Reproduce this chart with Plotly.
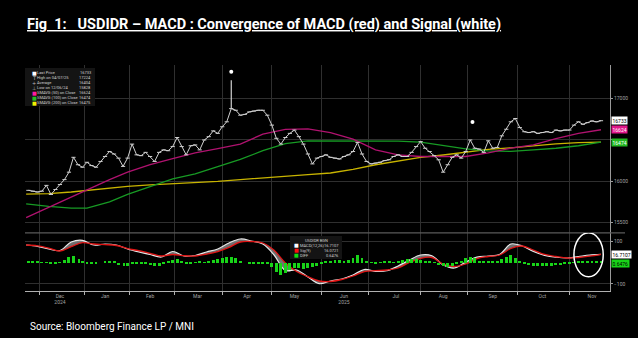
import pandas as pd
import plotly.graph_objects as go

# ---------------- data ----------------
holidays = ["2024-12-25", "2024-12-26", "2025-01-01", "2025-01-27", "2025-01-29"]
trade_days = [d for d in pd.bdate_range("2024-11-22", "2025-11-21")
              if d.strftime("%Y-%m-%d") not in holidays]
price_dates = trade_days[::-2][::-1]      # every second trading day
macd_dates = trade_days[::-5][::-1]       # weekly
sma_dates = pd.date_range("2024-11-22", "2025-11-21", freq="2W-FRI")

close = [15890, 15880, 15870, 15880, 15950, 15840, 15900, 15960, 16020, 16110,
         16290, 16200, 16170, 16230, 16190, 16170, 16240, 16300, 16360, 16330,
         16280, 16180, 16280, 16450, 16320, 16310, 16350, 16300, 16240, 16350,
         16380, 16370, 16420, 16530, 16420, 16320, 16430, 16440, 16380, 16500,
         16540, 16610, 16580, 16660, 16720, 16880, 16860, 16800, 16810, 16840,
         16850, 16860, 16860, 16800, 16680, 16520, 16450, 16530, 16580, 16620,
         16540, 16450, 16330, 16210, 16280, 16300, 16320, 16290, 16280, 16270,
         16300, 16320, 16360, 16470, 16330, 16240, 16210, 16220, 16230, 16250,
         16260, 16300, 16320, 16300, 16300, 16350, 16420, 16480, 16400, 16360,
         16310, 16260, 16110, 16200, 16290, 16320, 16280, 16360, 16500, 16400,
         16390, 16350, 16490, 16400, 16410, 16550, 16630, 16720, 16760, 16650,
         16600, 16590, 16600, 16580, 16590, 16600, 16590, 16620, 16610, 16620,
         16620, 16680, 16720, 16690, 16710, 16730, 16720, 16733]

high_date = ["2025-04-07", "2025-04-07"]
high_range = [16880, 17224]
event_dates = ["2025-04-07", "2025-09-03"]
event_vals = [17327, 16718]

sma50 = [15560, 15685, 15800, 15895, 16020, 16110, 16200, 16275, 16345, 16395,
         16450, 16570, 16628, 16635, 16590, 16510, 16380, 16320, 16300, 16300,
         16300, 16345, 16400, 16440, 16515, 16580, 16624]
sma100 = [15725, 15695, 15675, 15675, 15750, 15840, 15935, 16030, 16090, 16175,
          16265, 16370, 16455, 16490, 16490, 16490, 16490, 16485, 16475, 16435,
          16392, 16367, 16362, 16380, 16400, 16430, 16474]
sma200 = [15843, 15850, 15870, 15890, 15920, 15938, 15957, 15970, 15985, 15998,
          16020, 16043, 16062, 16080, 16100, 16145, 16200, 16248, 16290, 16318,
          16350, 16385, 16405, 16430, 16452, 16468, 16475]

macd = [84.2, 78.0, 65.3, 58.2, 98.4, 106.4, 84.2, 88.9, 84.2, 65.3,
        51.1, 39.3, 27.4, 53.4, 32.2, 34.5, 51.1, 65.3, 93.7, 112.6,
        103.1, 88.9, 36.9, -36.4, -34.1, -67.2, -98.9, -86.1, -76.6, -57.7,
        -31.7, -40.2, -37.4, -15.1, 13.2, 36.9, 33.1, -10.4, -24.6, 3.8,
        27.4, 32.2, 39.3, 88.9, 79.5, 53.4, 35.5, 26.5, 22.7, 29.8,
        36.9, 40.2]
signal = [84.2, 80.4, 70.0, 55.8, 76.2, 95.1, 88.9, 86.1, 81.8, 67.6,
          57.2, 44.9, 32.2, 39.3, 33.6, 32.2, 40.7, 53.4, 73.3, 98.4,
          100.7, 93.7, 59.1, -0.9, -41.2, -65.7, -86.1, -88.5, -79.0, -62.4,
          -41.2, -37.4, -34.1, -24.6, 1.4, 21.3, 25.1, -5.7, -17.5, -5.7,
          20.3, 29.8, 36.9, 67.6, 79.5, 60.5, 39.3, 29.8, 22.7, 25.1,
          31.2, 40.2]
diff_hist = [1, 1, 1, 0.5, 0.5, -1, -1, 0.5, 3, 5.5,
             6.5, 4, 2, -0.5, -1, -0.5, 0, 1.5, 1.5, 1,
             -2, -3.5, -3.5, -1.5, -1, -1, -1, -2, -3, -3,
             -1.5, 1, 3, 4, 2, -0.5, -1, 0.5, 1, 0.5,
             1, 2.5, 3.5, 4.5, 5.5, 6, 5, 2, 0, -0.5,
             -1, -1, -1, -1.5, -4, -9, -12, -10, -7, -5.5,
             -5.5, -6, -5.5, -4.5, -3, -1, 1, 2, 3, 2.5,
             2, 2.5, 5, 8, 5, 1, 0.5, -0.5, 0.5, 1,
             1, 0.5, 1.5, 2.5, 3.5, 4, 4, 3, 1.5, 1,
             0.5, -2, -3.5, -4, -3.5, -1.5, 2, 5, 6, 5,
             2, 1, 1, 1, 1.5, 3.5, 6, 8, 5, 1,
             -1.5, -2.5, -3, -3, -3, -3, -3, -2.5, -2, -1.5,
             -1, 0.5, 1, 1, 1, 1, 1, 1]

month_starts = ["2024-12-02", "2025-01-02", "2025-02-03", "2025-03-03", "2025-04-01",
                "2025-05-01", "2025-06-02", "2025-07-01", "2025-08-01", "2025-09-01",
                "2025-10-01", "2025-11-03"]
label_dates = ["2024-12-13", "2025-01-15", "2025-02-14", "2025-03-17", "2025-04-16",
               "2025-05-15", "2025-06-16", "2025-07-17", "2025-08-15", "2025-09-16",
               "2025-10-16", "2025-11-17"]
label_text = ["Dec<br>2024", "Jan", "Feb", "Mar", "Apr", "May", "Jun<br>2025",
              "Jul", "Aug", "Sep", "Oct", "Nov"]

price_ticks = [15500, 16000, 16500, 17000]
price_tick_text = ["15500", "16000", "", "17000"]   # 16500 is hidden under the SMA tag

legend_names = ["Last Price", "High on 04/07/25", "Average", "Low on 12/06/24",
                "SMAVG (50) on Close", "SMAVG (100) on Close", "SMAVG (200) on Close"]
legend_vals = ["16733", "17224", "16404", "15828", "16624", "16474", "16475"]
legend_icons = ["■", "T", "+", "⊥", "■", "■", "■"]
legend_icon_colors = ["#ffffff", "#bbbbbb", "#bbbbbb", "#bbbbbb", "#ff1aa0", "#22c022", "#f0f000"]

macd_leg_names = ["MACD(12,26)", "Sig(9)", "DIFF"]
macd_leg_vals = ["16.7107", "16.0721", "0.6476"]
macd_leg_colors = ["#ffffff", "#ff1010", "#10e010"]

# ---------------- figure ----------------
W, H = 638, 338
def fx(px):
    return px / W
def fy(py):
    return 1 - py / H

C_MAG = "#b0126f"
C_GRN = "#179a24"
C_YEL = "#c8b400"

fig = go.Figure()
fig.add_trace(go.Scatter(x=sma_dates, y=sma200, mode="lines", line=dict(color=C_YEL, width=1.3),
                         xaxis="x", yaxis="y", hoverinfo="skip"))
fig.add_trace(go.Scatter(x=sma_dates, y=sma100, mode="lines", line=dict(color=C_GRN, width=1.3),
                         xaxis="x", yaxis="y", hoverinfo="skip"))
fig.add_trace(go.Scatter(x=sma_dates, y=sma50, mode="lines", line=dict(color=C_MAG, width=1.3),
                         xaxis="x", yaxis="y", hoverinfo="skip"))
fig.add_trace(go.Scatter(x=price_dates, y=close, mode="lines+markers",
                         line=dict(color="#d0d0d0", width=1),
                         marker=dict(symbol="line-ew", size=3, line=dict(color="#d0d0d0", width=1)),
                         xaxis="x", yaxis="y"))
fig.add_trace(go.Scatter(x=high_date, y=high_range, mode="lines",
                         line=dict(color="#d0d0d0", width=1.2), xaxis="x", yaxis="y"))
fig.add_trace(go.Scatter(x=event_dates, y=event_vals, mode="markers",
                         marker=dict(color="white", size=4), xaxis="x", yaxis="y"))

# lower panel
fig.add_trace(go.Bar(x=price_dates, y=diff_hist, marker=dict(color="#18d418", line=dict(width=0)),
                     width=86400000 * 1.3, xaxis="x2", yaxis="y3"))
fig.add_trace(go.Scatter(x=macd_dates, y=signal, mode="lines", line=dict(color="rgba(0,0,0,0)", width=0),
                         xaxis="x2", yaxis="y2", line_shape="spline"))
fig.add_trace(go.Scatter(x=macd_dates, y=macd, mode="lines", line=dict(color="#e8e8e8", width=1.2),
                         fill="tonexty", fillcolor="rgba(150,150,150,0.75)",
                         xaxis="x2", yaxis="y2", line_shape="spline"))
fig.add_trace(go.Scatter(x=macd_dates, y=signal, mode="lines", line=dict(color="#e01515", width=1.3),
                         xaxis="x2", yaxis="y2", line_shape="spline"))

xdom = [fx(25), fx(610)]
rb = [dict(bounds=["sat", "mon"]), dict(values=holidays)]
xrange = ["2024-11-21 12:00", "2025-11-27"]
grid_c = "#2f2f2f"
tick_font = dict(family="Roboto", size=5, color="#a0a0a0")

fig.update_layout(
    width=W, height=H, margin=dict(l=0, r=0, t=0, b=0),
    paper_bgcolor="black", plot_bgcolor="black", showlegend=False, bargap=0,
    xaxis=dict(domain=xdom, anchor="y", type="date", range=xrange, rangebreaks=rb,
               showticklabels=False, showgrid=False, zeroline=False, matches="x2",
               minor=dict(tickvals=month_starts, showgrid=True, gridcolor=grid_c, gridwidth=1)),
    xaxis2=dict(domain=xdom, anchor="y2", type="date", range=xrange, rangebreaks=rb,
                tickvals=label_dates, ticktext=label_text, tickfont=tick_font, ticks="",
                showgrid=False, zeroline=False, showline=True, linecolor="#b0b0b0", linewidth=1,
                minor=dict(tickvals=month_starts, showgrid=True, gridcolor=grid_c, gridwidth=1,
                           ticks="outside", ticklen=3, tickcolor="#b0b0b0")),
    yaxis=dict(domain=[fy(232.7), fy(65)], anchor="x", side="right", range=[15377, 17408],
               tickvals=price_ticks, ticktext=price_tick_text, tickfont=tick_font,
               gridcolor=grid_c, zeroline=False, showline=True, linecolor="#9a9a9a",
               ticks="outside", ticklen=2, tickcolor="#9a9a9a"),
    yaxis2=dict(domain=[fy(290.7), fy(233)], anchor="x2", side="right", range=[-132, 141],
                tickvals=[-100, 100], tickformat="d", tickfont=tick_font, gridcolor=grid_c,
                zeroline=False, showline=True, linecolor="#9a9a9a", ticks="outside", ticklen=2,
                tickcolor="#9a9a9a"),
    yaxis3=dict(overlaying="y2", anchor="x2", range=[-27.9, 29.8], visible=False),
)

shapes = []
shapes.append(dict(type="line", xref="paper", yref="paper", x0=fx(25), x1=fx(625),
                   y0=fy(232.9), y1=fy(232.9), line=dict(color="#5a5a5a", width=1.2)))
shapes.append(dict(type="rect", xref="paper", yref="paper", x0=fx(25), x1=fx(95),
                   y0=fy(106), y1=fy(68), fillcolor="#141414", line=dict(width=0), layer="above"))
shapes.append(dict(type="rect", xref="paper", yref="paper", x0=fx(290), x1=fx(342),
                   y0=fy(259), y1=fy(236), fillcolor="#141414", line=dict(width=0), layer="above"))
shapes.append(dict(type="circle", xref="x2", yref="y2", x0="2025-11-05", x1="2025-11-24",
                   y0=-66, y1=142, line=dict(color="white", width=1.5)))
fig.update_layout(shapes=shapes)

ann = []
ann.append(dict(xref="paper", yref="paper", x=fx(25), y=fy(24), xanchor="left", yanchor="middle",
                showarrow=False,
                text="<u><b>Fig  1:   USDIDR – MACD : Convergence of MACD (red) and Signal (white)</b></u>",
                font=dict(family="Roboto", size=14.5, color="white")))
ann.append(dict(xref="paper", yref="paper", x=fx(28), y=fy(326), xanchor="left", yanchor="middle",
                showarrow=False, text="Source: Bloomberg Finance LP / MNI",
                font=dict(family="Roboto", size=10, color="white")))

leg_font = dict(family="Roboto", size=4, color="#cfcfcf")
for i, (nm, val, ic, icc) in enumerate(zip(legend_names, legend_vals, legend_icons, legend_icon_colors)):
    yy = fy(72.7 + 5 * i)
    ann.append(dict(xref="paper", yref="paper", x=fx(29.5), y=yy, xanchor="left", yanchor="middle",
                    showarrow=False, text=ic, font=dict(family="DejaVu Sans", size=5, color=icc)))
    ann.append(dict(xref="paper", yref="paper", x=fx(35), y=yy, xanchor="left", yanchor="middle",
                    showarrow=False, text=nm, font=leg_font))
    ann.append(dict(xref="paper", yref="paper", x=fx(93), y=yy, xanchor="right", yanchor="middle",
                    showarrow=False, text=val, font=leg_font))

ann.append(dict(xref="paper", yref="paper", x=fx(316), y=fy(240), xanchor="center", yanchor="middle",
                showarrow=False, text="USDIDR BGN", font=leg_font))
for i, (nm, val, cc) in enumerate(zip(macd_leg_names, macd_leg_vals, macd_leg_colors)):
    yy = fy(245 + 5 * i)
    ann.append(dict(xref="paper", yref="paper", x=fx(292), y=yy, xanchor="left", yanchor="middle",
                    showarrow=False, text="■", font=dict(family="DejaVu Sans", size=5, color=cc)))
    ann.append(dict(xref="paper", yref="paper", x=fx(298), y=yy, xanchor="left", yanchor="middle",
                    showarrow=False, text=nm, font=leg_font))
    ann.append(dict(xref="paper", yref="paper", x=fx(341), y=yy, xanchor="right", yanchor="middle",
                    showarrow=False, text=val, font=leg_font))

# right-hand value tags
tags = [("y", sma100[-1], str(sma100[-1]), "#22b822", "white"),
        ("y", sma50[-1], str(sma50[-1]), "#e0168a", "white"),
        ("y", close[-1], str(close[-1]), "white", "black"),
        ("y2", macd[-1] - 3, macd_leg_vals[0], "white", "black"),
        ("y2", -2, macd_leg_vals[2], "#18d418", "black")]
for yref, yv, txt, bg, fc in tags:
    ann.append(dict(xref="paper", yref=yref, x=fx(611), y=yv, xanchor="left", yanchor="middle",
                    showarrow=False, text=txt, bgcolor=bg, borderpad=0.5,
                    font=dict(family="Roboto", size=5, color=fc)))

fig.update_layout(annotations=ann)
fig.write_html("out.html")
